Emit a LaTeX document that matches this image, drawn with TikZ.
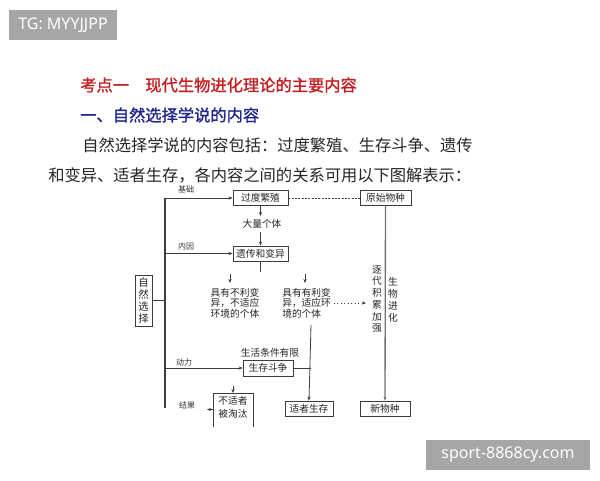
\documentclass[tikz,border=0pt]{standalone}
\usepackage{fontspec}
\usetikzlibrary{arrows.meta}
\newfontfamily\cjk{Noto Sans CJK SC}
\newfontfamily\cjkb[FakeBold=1.2]{Noto Sans CJK SC}
\newfontfamily\wmfont{Noto Sans}
\definecolor{titlered}{RGB}{196,28,32}
\definecolor{titleblue}{RGB}{30,36,140}
\definecolor{wmgray}{RGB}{166,166,166}
\definecolor{ln}{RGB}{60,60,60}
\tikzset{
  dtext/.style={font=\cjk\fontsize{7.3}{8}\selectfont, text=black!85, inner sep=0pt},
  lbl/.style={font=\cjk\fontsize{6}{7}\selectfont, text=black!80, inner sep=0pt},
  boxn/.style={draw=ln, line width=0.6pt, font=\cjk\fontsize{7.3}{8}\selectfont, text=black!85, inner sep=0pt, minimum height=11.25pt},
  con/.style={draw=ln, line width=0.6pt},
  arr/.style={con, -{Stealth[length=3pt,width=2.4pt]}},
  wm/.style={fill=wmgray, text=white, font=\wmfont\fontsize{12}{14}\selectfont, inner sep=0pt},
  head/.style={font=\cjk\fontsize{12.2}{14}\selectfont, anchor=west, inner sep=0pt},
  headb/.style={font=\cjkb\fontsize{12.2}{14}\selectfont, anchor=west, inner sep=0pt}
}
\begin{document}
\begin{tikzpicture}[x=0.75pt,y=-0.75pt]
\useasboundingbox (0,0) rectangle (600,480);
\fill[white] (0,0) rectangle (600,480);
% watermarks
\node[wm, minimum width=81pt, minimum height=22.5pt] (wmtop) at (63,25) {TG: MYYJJPP};
\node[wm, minimum width=123pt, minimum height=22.5pt] (wmbot) at (508,455) {sport-8868cy.com};
% headings
\node[headb, text=titlered] (t1) at (80,85) {考点一\quad 现代生物进化理论的主要内容};
\node[headb, text=titleblue] (t2) at (80,115) {一、自然选择学说的内容};
\node[head, text=black!85] (t3) at (82,145) {自然选择学说的内容包括：过度繁殖、生存斗争、遗传};
\node[head, text=black!85] (t4) at (48,175) {和变异、适者生存，各内容之间的关系可用以下图解表示：};
% boxes
\node[boxn, minimum width=41.25pt] (guodu) at (260.5,198) {过度繁殖};
\node[boxn, minimum width=38.25pt] (yuanshi) at (385.5,198) {原始物种};
\node[dtext] (daliang) at (262,224) {大量个体};
\node[boxn, minimum width=41.25pt] (yichuan) at (260.5,253.5) {遗传和变异};
\node[dtext, align=center] (buli) at (235,303) {具有不利变\\异，不适应\\环境的个体};
\node[dtext, align=left, anchor=west] (youli) at (282,303) {具有有利变\\异，适应环\\境的个体};
\node[dtext, align=center, font=\cjk\fontsize{7.3}{8.8}\selectfont] (zhuji) at (377,299) {逐\\代\\积\\累\\加\\强};
\node[dtext, align=center, font=\cjk\fontsize{7.3}{9}\selectfont] (jinhua) at (393,300) {生\\物\\进\\化};
\node[draw=ln, line width=0.6pt, minimum width=12.75pt, minimum height=38.25pt, inner sep=0pt, align=center, font=\cjk\fontsize{7.8}{9}\selectfont, text=black!85] (ziran) at (143.5,300.5) {自\\然\\选\\择};
\node[dtext] (shenghuo) at (270,353) {生活条件有限};
\node[boxn, minimum width=37.5pt, minimum height=12pt] (douzheng) at (268,368) {生存斗争};
\node[dtext, align=center, font=\cjk\fontsize{7.3}{9.5}\selectfont] (taotai) at (233,407) {不适者\\被淘汰};
\draw[con] (213,427) -- (213,393) -- (253,393) -- (253,427);
\node[boxn, minimum width=36pt] (shizhe) at (309,408.5) {适者生存};
\node[boxn, minimum width=37.5pt] (xinwu) at (385,408.5) {新物种};
% labels
\node[lbl] (jichu) at (186,189) {基础};
\node[lbl] (neiyin) at (186,246) {内因};
\node[lbl] (dongli) at (184,362) {动力};
\node[lbl] (jieguo) at (187,405) {结果};
% spine
\coordinate (sTop) at (165,198);
\coordinate (sBot) at (165,408);
\draw[con, line width=1pt] (sTop) -- (sBot);
\draw[arr] (sTop) -- (guodu.west);
\draw[arr] (165,253.5) -- (yichuan.west);
\draw[arr] (165,368) -- (douzheng.west);
\draw[con] (ziran.east) -- (165,300.5);
% arrows
\draw[arr] (guodu.south) -- (260.5,216);
\draw[arr] (260.5,232) -- (yichuan.north);
\coordinate (stub) at (260.5,272);
\draw[con] (yichuan.south) -- (stub);
\draw[arr] (230,274) -- (230,283);
\draw[arr] (305,274) -- (305,283);
\draw[con, dashed, dash pattern=on 1.5pt off 1pt] (guodu.east) -- (yuanshi.west);
\draw[arr, line width=1pt, draw=black!55] (yuanshi.south) -- (xinwu.north);
\draw[arr, dotted] (334,303) -- (366,303);
\draw[arr] (311,325) -- (shizhe.north);
\draw[con] (douzheng.east) -- (311,368);
\draw[arr] (233,386) -- (233,393);
\draw[arr] (213,409.5) -- (207,409.5);
\end{tikzpicture}
\end{document}
